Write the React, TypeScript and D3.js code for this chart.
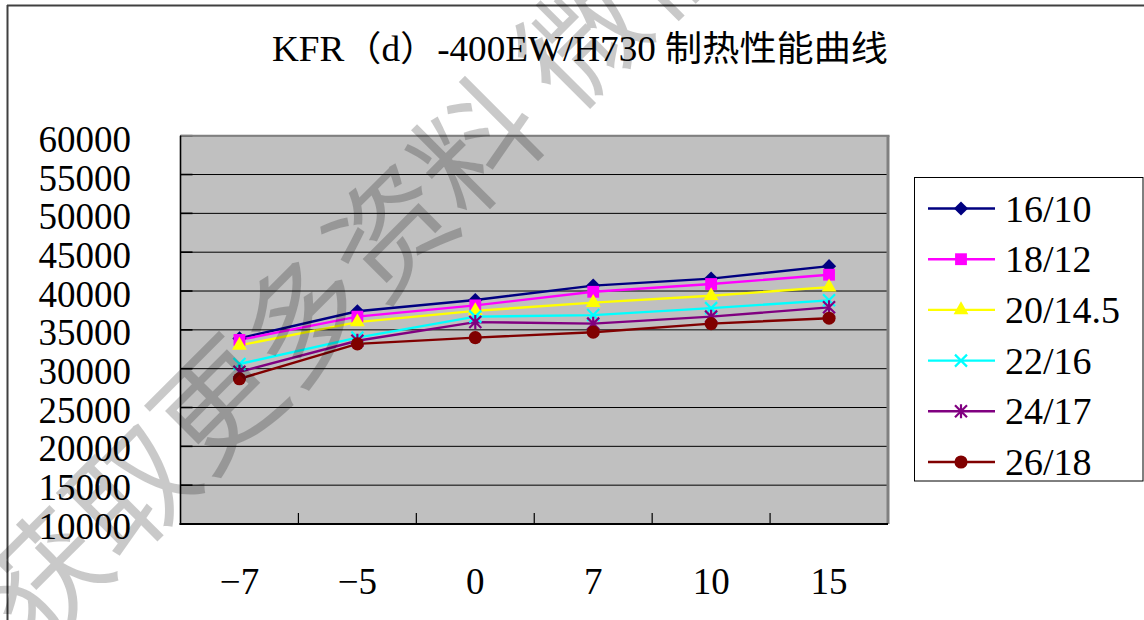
import React from "react";
import * as d3 from "d3";

const title = "KFR（d）-400EW/H730 制热性能曲线";
const categories = ["−7", "−5", "0", "7", "10", "15"];
const yTicks = [10000, 15000, 20000, 25000, 30000, 35000, 40000, 45000, 50000, 55000, 60000];

const seriesNames = ["16/10", "18/12", "20/14.5", "22/16", "24/17", "26/18"];
const s16_10 = [33900, 37400, 38850, 40700, 41600, 43200];
const s18_12 = [33700, 36700, 38150, 39900, 40900, 42100];
const s20_145 = [33000, 36000, 37450, 38500, 39400, 40500];
const s22_16 = [30600, 34000, 36700, 36900, 37800, 38800];
const s24_17 = [29600, 33600, 36000, 35800, 36700, 37900];
const s26_18 = [28700, 33200, 34000, 34700, 35800, 36500];
const seriesColors = ["#000080", "#FF00FF", "#FFFF00", "#00FFFF", "#800080", "#800000"];
const seriesMarkers = ["diamond", "square", "triangle", "x", "star", "circle"];
const watermark = "获取更多资料 微信";

const W = 1144;
const H = 620;
const plot = { left: 180.5, right: 888, top: 135.7, bottom: 524 };

function markerPath(kind: string): { d: string; rotate: number } {
  if (kind === "diamond") return { d: d3.symbol(d3.symbolSquare, 100)() as string, rotate: 45 };
  if (kind === "square") return { d: d3.symbol(d3.symbolSquare, 140)() as string, rotate: 0 };
  if (kind === "triangle") return { d: d3.symbol(d3.symbolTriangle, 95)() as string, rotate: 0 };
  if (kind === "circle") return { d: d3.symbol(d3.symbolCircle, 135)() as string, rotate: 0 };
  const p = d3.path();
  const r = 6;
  p.moveTo(-r, -r); p.lineTo(r, r);
  p.moveTo(-r, r); p.lineTo(r, -r);
  if (kind === "star") { p.moveTo(0, -r - 1); p.lineTo(0, r + 1); }
  return { d: p.toString(), rotate: 0 };
}

function Marker({ kind, color, x, y }: { kind: string; color: string; x: number; y: number }) {
  const m = markerPath(kind);
  const stroked = kind === "x" || kind === "star";
  return (
    <path
      d={m.d}
      transform={`translate(${x},${y}) rotate(${m.rotate})`}
      fill={stroked ? "none" : color}
      stroke={stroked ? color : "none"}
      strokeWidth={stroked ? 2.2 : 0}
    />
  );
}

export default function App() {
  const seriesValues = [s16_10, s18_12, s20_145, s22_16, s24_17, s26_18];
  const x = d3.scaleBand<string>().domain(categories).range([plot.left, plot.right]).padding(0);
  const y = d3.scaleLinear().domain([10000, 60000]).range([plot.bottom, plot.top]);
  const cx = (c: string) => (x(c) as number) + x.bandwidth() / 2;
  const line = d3
    .line<number>()
    .x((_, i) => cx(categories[i]))
    .y((v) => y(v));

  const legendX = 914.5;
  const legendY = 177.5;
  const legendStep = 50.7;
  const serif = "'Liberation Serif', 'DejaVu Serif', serif";

  return (
    <svg
      width={W}
      height={H}
      style={{ position: "absolute", left: 0, top: 0, background: "#fff" }}
      xmlns="http://www.w3.org/2000/svg"
    >
      <rect x={0} y={0} width={W} height={H} fill="#fff" />
      {/* outer chart frame */}
      <line x1={7} y1={5.5} x2={W} y2={5.5} stroke="#404040" strokeWidth={2} />
      <line x1={7.5} y1={5} x2={7.5} y2={H} stroke="#404040" strokeWidth={2} />

      {/* title */}
      <text
        x={580}
        y={61}
        textAnchor="middle"
        fontFamily="'Liberation Serif', 'Noto Sans CJK SC', serif"
        fontSize={35}
        textLength={616}
        lengthAdjust="spacingAndGlyphs"
        fill="#000"
      >
        {title}
      </text>

      {/* plot area */}
      <rect
        x={plot.left}
        y={plot.top}
        width={plot.right - plot.left}
        height={plot.bottom - plot.top}
        fill="#C0C0C0"
      />
      {yTicks.map((t) => (
        <line key={"g" + t} x1={plot.left} x2={plot.right} y1={y(t)} y2={y(t)} stroke="#000" strokeWidth={1} />
      ))}
      {yTicks.map((t) => (
        <line key={"yt" + t} x1={plot.left} x2={plot.left + 12} y1={y(t)} y2={y(t)} stroke="#000" strokeWidth={1.6} />
      ))}
      {/* top & right border */}
      <line x1={plot.left} x2={plot.right + 1.5} y1={plot.top} y2={plot.top} stroke="#808080" strokeWidth={2} />
      <line x1={plot.right} x2={plot.right} y1={plot.top} y2={plot.bottom} stroke="#808080" strokeWidth={3} />
      {/* axes */}
      <line x1={plot.left} x2={plot.left} y1={plot.top} y2={plot.bottom + 1} stroke="#000" strokeWidth={1.6} />
      <line x1={plot.left - 1} x2={plot.right} y1={plot.bottom} y2={plot.bottom} stroke="#000" strokeWidth={2} />
      {categories.slice(1).map((c) => (
        <line
          key={"xt" + c}
          x1={x(c) as number}
          x2={x(c) as number}
          y1={plot.bottom}
          y2={plot.bottom - 11}
          stroke="#000"
          strokeWidth={1.2}
        />
      ))}

      {/* y labels */}
      {yTicks.map((t) => (
        <text
          key={"yl" + t}
          x={131}
          y={y(t) + 2 + ((t - 10000) / 50000) * 2}
          textAnchor="end"
          dominantBaseline="central"
          fontFamily={serif}
          fontSize={37}
          fill="#000"
        >
          {t}
        </text>
      ))}
      {/* x labels */}
      {categories.map((c) => (
        <text
          key={"xl" + c}
          x={cx(c)}
          y={594}
          textAnchor="middle"
          fontFamily={serif}
          fontSize={37}
          fill="#000"
        >
          {c}
        </text>
      ))}

      {/* series */}
      {seriesValues.map((vals, si) => (
        <path
          key={"l" + si}
          d={line(vals) as string}
          fill="none"
          stroke={seriesColors[si]}
          strokeWidth={2.4}
        />
      ))}
      {seriesValues.map((vals, si) =>
        vals.map((v, i) => (
          <Marker key={`m${si}-${i}`} kind={seriesMarkers[si]} color={seriesColors[si]} x={cx(categories[i])} y={y(v)} />
        ))
      )}

      {/* legend */}
      <rect x={legendX} y={legendY} width={1143 - legendX} height={481 - legendY} fill="#fff" stroke="#000" strokeWidth={1} />
      {seriesNames.map((n, i) => {
        const ly = legendY + 31 + i * legendStep;
        return (
          <g key={"lg" + n}>
            <line x1={928} x2={995} y1={ly} y2={ly} stroke={seriesColors[i]} strokeWidth={2.4} />
            <Marker kind={seriesMarkers[i]} color={seriesColors[i]} x={961} y={ly} />
            <text x={1005} y={ly} dominantBaseline="central" fontFamily={serif} fontSize={38} fill="#000">
              {n}
            </text>
          </g>
        );
      })}

      {/* watermark */}
      <text
        transform="translate(-4,614) rotate(-45)"
        x={0}
        y={0}
        dominantBaseline="central"
        fontFamily="'Noto Sans CJK SC', sans-serif"
        fontSize={122}
        fill="#000"
        fillOpacity={0.21}
      >
        {watermark}
      </text>
    </svg>
  );
}
